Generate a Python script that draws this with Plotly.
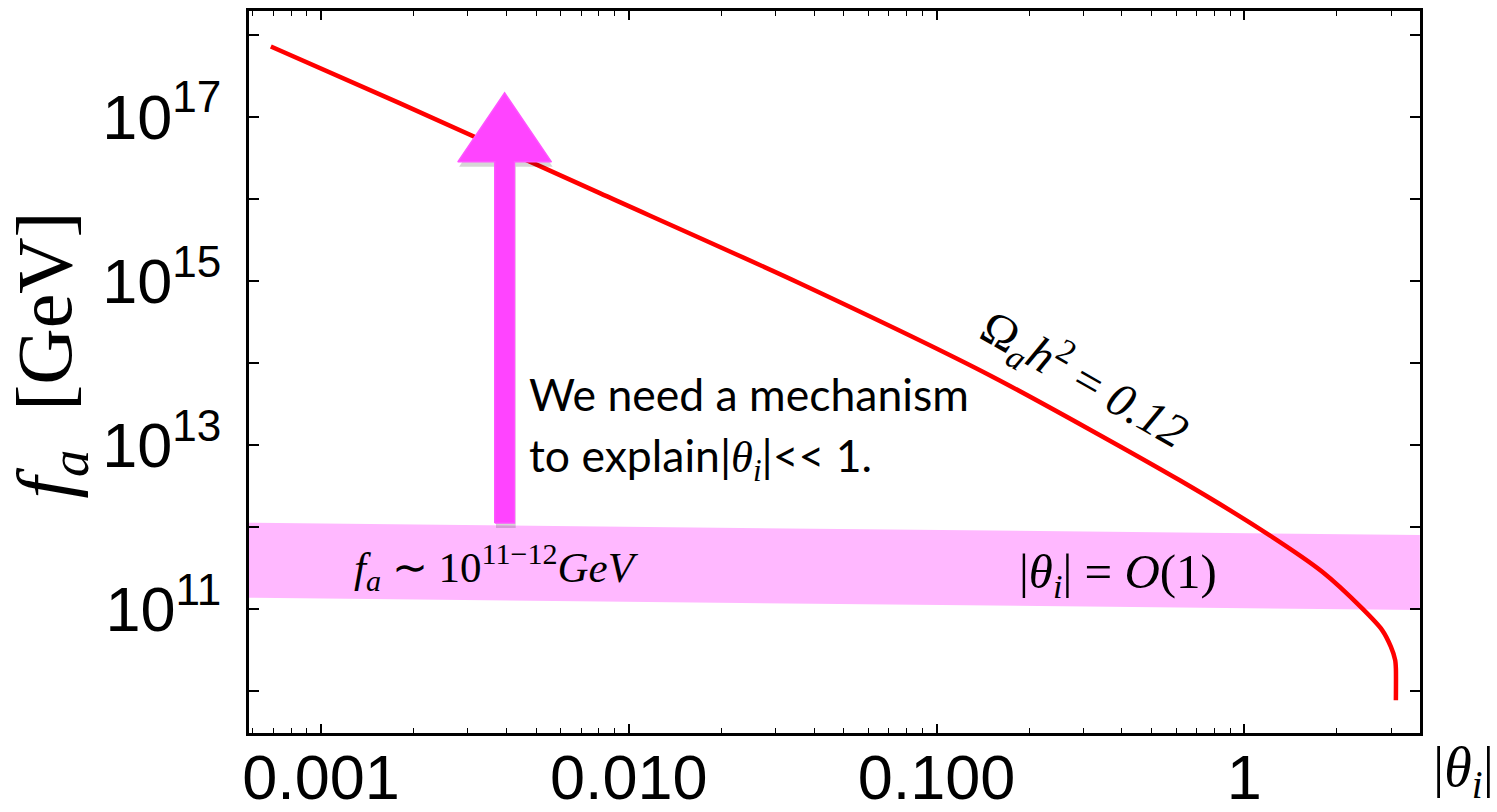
import plotly.graph_objects as go
import numpy as np

# ---- data ----
theta_i = [0.000687, 0.00180, 0.00805, 0.0359, 0.152, 0.615, 1.206, 1.792, 2.416, 2.805, 2.994, 3.093, 3.109, 3.109]
f_a = [7.19e17, 1.47e17, 1.175e16, 9.38e14, 6.81e13, 3.74e12, 7.98e11, 2.85e11, 1.019e11, 5.55e10, 3.48e10, 2.39e10, 1.89e10, 7.76e9]

band_theta = [5.83e-4, 3.72]
band_top = [1.13e12, 7.98e11]
band_bottom = [1.374e11, 9.73e10]

arrow_theta = 0.00395
arrow_from = 1.12e12
arrow_to = 1.96e17
arrow_head_base = 2.83e16

x_tickvals = [0.001, 0.01, 0.1, 1]
x_ticktext = ["0.001", "0.010", "0.100", "1"]
y_label_exponents = [11, 13, 15, 17]
y_plain_exponents = [10, 12, 14, 16, 18]

# ---- figure ----
fig = go.Figure()

# pink band
fig.add_trace(go.Scatter(
    x=[band_theta[0], band_theta[1], band_theta[1], band_theta[0], band_theta[0]],
    y=[band_top[0], band_top[1], band_bottom[1], band_bottom[0], band_top[0]],
    fill="toself", fillcolor="#FFB8FF", line=dict(width=0), mode="lines",
    hoverinfo="skip", showlegend=False))

# relic-density curve
fig.add_trace(go.Scatter(
    x=theta_i, y=f_a, mode="lines",
    line=dict(color="#FF0000", width=4.5, shape="spline", smoothing=0.7),
    showlegend=False))

# arrow (built in log space, converted to data)
lx = np.log10(arrow_theta)
shaft_hw = 0.032
head_hw = 0.152
ys = [np.log10(arrow_from), np.log10(arrow_head_base), np.log10(arrow_to)]
poly_lx = [lx - shaft_hw, lx - shaft_hw, lx - head_hw, lx, lx + head_hw, lx + shaft_hw, lx + shaft_hw, lx - shaft_hw]
poly_ly = [ys[0], ys[1], ys[1], ys[2], ys[1], ys[1], ys[0], ys[0]]
# soft shadow
sh_dx, sh_dy = 0.004, -0.06
fig.add_trace(go.Scatter(
    x=[10 ** (v + sh_dx) for v in poly_lx], y=[10 ** (v + sh_dy) for v in poly_ly],
    fill="toself", fillcolor="rgba(0,0,0,0.16)", line=dict(width=0), mode="lines",
    hoverinfo="skip", showlegend=False))
fig.add_trace(go.Scatter(
    x=[10 ** v for v in poly_lx], y=[10 ** v for v in poly_ly],
    fill="toself", fillcolor="#FF44FF", line=dict(width=1.5, color="#FF55FF"), mode="lines",
    hoverinfo="skip", showlegend=False))

x_minor = [k * 10.0 ** n for n in range(-4, 1) for k in range(2, 10)]

axis_common = dict(
    showline=True, linecolor="black", linewidth=3, mirror="allticks",
    ticks="inside", tickcolor="black", tickwidth=1.5,
    showgrid=False, zeroline=False, automargin=False,
)

fig.update_xaxes(
    type="log", range=[-3.234, 0.571],
    tickmode="array", tickvals=x_tickvals, ticktext=x_ticktext, ticklen=9,
    tickfont=dict(family="Liberation Sans", size=63, color="black"),
    minor=dict(tickmode="array", tickvals=x_minor, ticks="inside", ticklen=5,
               tickcolor="black", tickwidth=1, showgrid=False),
    ticklabelstandoff=-13,
    **axis_common)

fig.update_yaxes(
    type="log", range=[9.49, 18.29],
    tickmode="array", tickvals=[10.0 ** n for n in y_label_exponents],
    ticktext=["10<sup>%d</sup>" % n for n in y_label_exponents],
    ticklen=10,
    tickfont=dict(family="Liberation Sans", size=63, color="black"),
    minor=dict(tickmode="array", tickvals=[10.0 ** n for n in y_plain_exponents],
               ticks="inside", ticklen=10, tickcolor="black", tickwidth=1.5, showgrid=False),
    ticklabelstandoff=12,
    **axis_common)

serif = "Liberation Serif"
annotations = [
    # y-axis title
    dict(text="<i>f</i><sub><i>a</i></sub>  [GeV]", xref="paper", yref="paper",
         x=-0.17, y=0.524, xanchor="center", yanchor="middle", textangle=-90,
         showarrow=False, font=dict(family=serif, size=78, color="black")),
    # x-axis title
    dict(text="|<i>θ</i><sub><i>i</i></sub>|", xref="paper", yref="paper",
         x=1.0 + (1463 - 1420) / 1171, y=-(771 - 733) / 722, xanchor="center", yanchor="middle",
         showarrow=False, font=dict(family=serif, size=56, color="black")),
    # curve label
    dict(text="Ω<sub><i>a</i></sub><i>h</i><sup>2</sup> = <i>0.12</i>", xref="x", yref="y",
         x=np.log10(0.303), y=np.log10(6.56e13), textangle=29.6, showarrow=False,
         font=dict(family=serif, size=48, color="black")),
    # band labels
    dict(text="<i>f</i><sub><i>a</i></sub> ∼ 10<sup>11−12</sup><i>GeV</i>", xref="x", yref="y",
         x=-2.899, y=np.log10(3.25e11), xanchor="left", showarrow=False,
         font=dict(family=serif, size=43, color="black")),
    dict(text="|<i>θ</i><sub><i>i</i></sub>| = <i>O</i>(1)", xref="x", yref="y",
         x=-0.740, y=np.log10(2.67e11), xanchor="left", showarrow=False,
         font=dict(family=serif, size=49, color="black")),
    # mechanism text
    dict(text="We need a mechanism", xref="paper", yref="paper",
         x=(527 - 249) / 1171, y=1 - (393 - 11) / 722, xanchor="left", yanchor="middle",
         showarrow=False, font=dict(family="Lato", size=44.5, color="black")),
    dict(text="to explain|<span style='font-family:Liberation Serif'><i>θ</i><sub><i>i</i></sub></span>|&lt;&lt; 1.",
         xref="paper", yref="paper",
         x=(527 - 249) / 1171, y=1 - (458 - 11) / 722, xanchor="left", yanchor="middle",
         showarrow=False, font=dict(family="Lato", size=44.5, color="black")),
]

fig.update_layout(
    width=1497, height=812, autosize=False,
    margin=dict(l=249, r=77, t=11, b=79),
    paper_bgcolor="white", plot_bgcolor="white",
    annotations=annotations, showlegend=False,
)

fig.write_html("out.html", config={"displayModeBar": False},
               post_script="document.body.style.margin='0px';document.body.style.overflow='hidden';")
